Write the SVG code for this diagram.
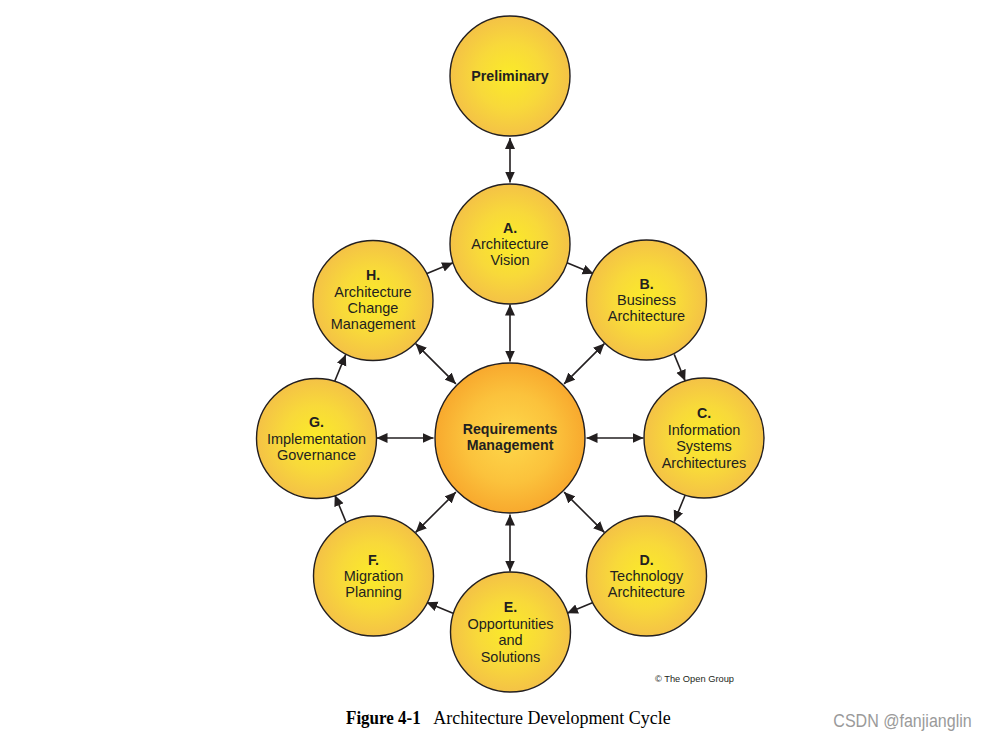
<svg xmlns="http://www.w3.org/2000/svg" width="986" height="738" viewBox="0 0 986 738">
<defs>
<radialGradient id="gOuter" cx="50%" cy="50%" r="50%">
<stop offset="0%" stop-color="#fbeb28"/>
<stop offset="55%" stop-color="#f8d93a"/>
<stop offset="100%" stop-color="#f4c246"/>
</radialGradient>
<radialGradient id="gReq" cx="50%" cy="50%" r="50%">
<stop offset="0%" stop-color="#fed84a"/>
<stop offset="60%" stop-color="#fbc23c"/>
<stop offset="100%" stop-color="#f8a92e"/>
</radialGradient>
<marker id="ah" markerUnits="userSpaceOnUse" markerWidth="11" markerHeight="11" viewBox="0 0 11 11" refX="11" refY="5.5" orient="auto-start-reverse">
<path d="M0,0.5 L11,5.5 L0,10.5 z" fill="#231f20"/>
</marker>
</defs>
<style>
.node{fill:url(#gOuter);stroke:#231f20;stroke-width:1.4}
.req{fill:url(#gReq);stroke:#231f20;stroke-width:1.4}
text{font-family:"Liberation Sans",Arial,sans-serif;fill:#231f20;text-anchor:middle}
.lbl{font-size:14.5px}
.b{font-size:14.2px;font-weight:bold}
.con line{stroke:#231f20;stroke-width:1.6;fill:none}
.one{marker-end:url(#ah)}
.two{marker-start:url(#ah);marker-end:url(#ah)}
.cap{font-family:"Liberation Serif","Times New Roman",serif;text-anchor:start;fill:#000;font-size:18px}
</style>
<rect width="986" height="738" fill="#ffffff"/>

<g id="connectors" class="con">
<line class="two" x1="510" y1="138" x2="510" y2="182.5"/>
<line class="two" x1="510" y1="361.5" x2="510" y2="304.5"/>
<line class="two" x1="510" y1="514.5" x2="510" y2="571.5"/>
<line class="two" x1="586.5" y1="438" x2="643.5" y2="438"/>
<line class="two" x1="433.5" y1="438" x2="376.5" y2="438"/>
<line class="two" x1="455.9" y1="383.9" x2="415.6" y2="343.6"/>
<line class="two" x1="564.1" y1="383.9" x2="604.4" y2="343.6"/>
<line class="two" x1="564.1" y1="492.1" x2="604.4" y2="532.4"/>
<line class="two" x1="455.9" y1="492.1" x2="415.6" y2="532.4"/>
<line class="one" x1="567.0" y1="262.8" x2="593.6" y2="273.8"/>
<line class="one" x1="674.2" y1="354.4" x2="685.2" y2="381.0"/>
<line class="one" x1="685.2" y1="495.0" x2="674.2" y2="521.6"/>
<line class="one" x1="593.6" y1="602.2" x2="567.0" y2="613.2"/>
<line class="one" x1="453.0" y1="613.2" x2="426.4" y2="602.2"/>
<line class="one" x1="345.8" y1="521.6" x2="334.8" y2="495.0"/>
<line class="one" x1="334.8" y1="381.0" x2="345.8" y2="354.4"/>
<line class="one" x1="426.4" y1="273.8" x2="453.0" y2="262.8"/>
</g>

<g id="preliminary">
<circle class="node" cx="510" cy="76" r="60"/>
<text class="b" x="510" y="80.5">Preliminary</text>
</g>

<g id="requirements">
<circle class="req" cx="510" cy="438" r="75"/>
<text class="b" x="510" y="433.5">Requirements</text>
<text class="b" x="510" y="449.5">Management</text>
</g>

<g id="nodeA">
<circle class="node" cx="510" cy="244" r="60"/>
<text class="b" x="510" y="232.7">A.</text>
<text class="lbl" x="510" y="249">Architecture</text>
<text class="lbl" x="510" y="265.2">Vision</text>
</g>

<g id="nodeB">
<circle class="node" cx="646.5" cy="300" r="60"/>
<text class="b" x="646.5" y="288.7">B.</text>
<text class="lbl" x="646.5" y="305">Business</text>
<text class="lbl" x="646.5" y="321.2">Architecture</text>
</g>

<g id="nodeC">
<circle class="node" cx="704" cy="438" r="60"/>
<text class="b" x="704" y="418.4">C.</text>
<text class="lbl" x="704" y="434.8">Information</text>
<text class="lbl" x="704" y="451.2">Systems</text>
<text class="lbl" x="704" y="467.6">Architectures</text>
</g>

<g id="nodeD">
<circle class="node" cx="646.5" cy="576" r="60"/>
<text class="b" x="646.5" y="564.7">D.</text>
<text class="lbl" x="646.5" y="581">Technology</text>
<text class="lbl" x="646.5" y="597.2">Architecture</text>
</g>

<g id="nodeE">
<circle class="node" cx="510.5" cy="632" r="60"/>
<text class="b" x="510.5" y="612.4">E.</text>
<text class="lbl" x="510.5" y="628.8">Opportunities</text>
<text class="lbl" x="510.5" y="645.2">and</text>
<text class="lbl" x="510.5" y="661.6">Solutions</text>
</g>

<g id="nodeF">
<circle class="node" cx="373.5" cy="576" r="60"/>
<text class="b" x="373.5" y="564.7">F.</text>
<text class="lbl" x="373.5" y="581">Migration</text>
<text class="lbl" x="373.5" y="597.2">Planning</text>
</g>

<g id="nodeG">
<circle class="node" cx="316.5" cy="438.5" r="60"/>
<text class="b" x="316.5" y="427.2">G.</text>
<text class="lbl" x="316.5" y="443.5">Implementation</text>
<text class="lbl" x="316.5" y="459.7">Governance</text>
</g>

<g id="nodeH">
<circle class="node" cx="373" cy="300.5" r="60"/>
<text class="b" x="373" y="280.2">H.</text>
<text class="lbl" x="373" y="296.6">Architecture</text>
<text class="lbl" x="373" y="313">Change</text>
<text class="lbl" x="373" y="329.4">Management</text>
</g>

<text x="655" y="681.7" style="font-size:9.3px;text-anchor:start">© The Open Group</text>

<text class="cap" x="346" y="724.3" style="font-weight:bold" textLength="74.7" lengthAdjust="spacingAndGlyphs">Figure 4-1</text>
<text class="cap" x="433.3" y="724.3" textLength="237.4" lengthAdjust="spacingAndGlyphs">Architecture Development Cycle</text>

<text x="833.3" y="726.5" style="font-size:17.5px;text-anchor:start;fill:#9a9a9a" textLength="138.4" lengthAdjust="spacingAndGlyphs">CSDN @fanjianglin</text>
</svg>
